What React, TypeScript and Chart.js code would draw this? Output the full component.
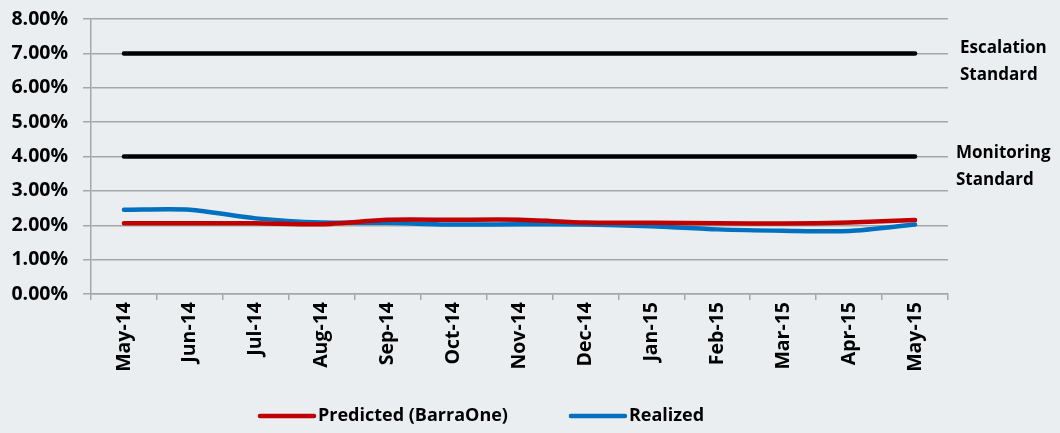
import React, { useEffect, useRef } from 'react';
import { Chart, registerables } from 'chart.js';

Chart.register(...registerables);

const categories = ['May-14', 'Jun-14', 'Jul-14', 'Aug-14', 'Sep-14', 'Oct-14', 'Nov-14', 'Dec-14', 'Jan-15', 'Feb-15', 'Mar-15', 'Apr-15', 'May-15'];
const predicted = [2.06, 2.06, 2.06, 2.03, 2.16, 2.16, 2.16, 2.08, 2.07, 2.06, 2.05, 2.08, 2.15];
const realized = [2.45, 2.45, 2.2, 2.08, 2.07, 2.02, 2.03, 2.02, 1.97, 1.88, 1.84, 1.83, 2.02];
const escalationStandard = [7, 7, 7, 7, 7, 7, 7, 7, 7, 7, 7, 7, 7];
const monitoringStandard = [4, 4, 4, 4, 4, 4, 4, 4, 4, 4, 4, 4, 4];
const seriesLabels = ['Predicted (BarraOne)', 'Realized'];
const standardLabels = [['Escalation', 'Standard'], ['Monitoring', 'Standard']];

const BG = '#eaeef0';
const GRID = '#a6a6a6';
const FONT = "'Open Sans', sans-serif";
const AXIS_FS = 19.5;
const NOTE_FS = 17;
const LEGEND_FS = 18;

const extrasPlugin = {
  id: 'extras',
  beforeDraw(chart: any) {
    const { ctx, width, height } = chart;
    ctx.save();
    ctx.fillStyle = BG;
    ctx.fillRect(0, 0, width, height);
    ctx.restore();
  },
  afterDraw(chart: any) {
    const { ctx, chartArea } = chart;
    const y = chart.scales.y;
    ctx.save();
    ctx.font = `bold ${NOTE_FS}px ${FONT}`;
    ctx.fillStyle = '#000';
    ctx.textBaseline = 'middle';
    ctx.textAlign = 'left';
    const x = chartArea.right + 10;
    const y7 = y.getPixelForValue(escalationStandard[0]);
    const y4 = y.getPixelForValue(monitoringStandard[0]);
    ctx.fillText(standardLabels[0][0], x + 2, y7 - 5.5);
    ctx.fillText(standardLabels[0][1], x + 2, y7 + 21.5);
    ctx.fillText(standardLabels[1][0], x - 2, y4 - 3.5);
    ctx.fillText(standardLabels[1][1], x - 2, y4 + 23.5);

    // legend
    ctx.font = `bold ${LEGEND_FS}px ${FONT}`;
    const ly = 408;
    let lx = 252;
    const lineLen = 54;
    [0, 1].forEach((i) => {
      const ds = chart.data.datasets[i];
      ctx.strokeStyle = ds.borderColor;
      ctx.lineWidth = 4.5;
      ctx.lineCap = 'round';
      ctx.beginPath();
      ctx.moveTo(lx, ly);
      ctx.lineTo(lx + lineLen, ly);
      ctx.stroke();
      ctx.fillStyle = '#000';
      ctx.fillText(ds.label, lx + lineLen + 4, ly);
      const w = ctx.measureText(ds.label).width;
      lx += lineLen + 4 + w + 63;
    });
    ctx.restore();
  },
};

export default function App() {
  const ref = useRef<HTMLCanvasElement>(null);
  useEffect(() => {
    document.body.style.background = BG;
    const chart = new Chart(ref.current!, {
      type: 'line',
      data: {
        labels: categories,
        datasets: [
          { label: seriesLabels[0], data: predicted, borderColor: '#c00000', backgroundColor: '#c00000', borderWidth: 4.5, pointRadius: 0, tension: 0.25, borderCapStyle: 'round' },
          { label: seriesLabels[1], data: realized, borderColor: '#0070c0', backgroundColor: '#0070c0', borderWidth: 4.5, pointRadius: 0, tension: 0.25, borderCapStyle: 'round' },
          { label: 'Escalation Standard', data: escalationStandard, borderColor: '#000', borderWidth: 4.5, pointRadius: 0, borderCapStyle: 'round' },
          { label: 'Monitoring Standard', data: monitoringStandard, borderColor: '#000', borderWidth: 4.5, pointRadius: 0, borderCapStyle: 'round' },
        ],
      },
      options: {
        animation: false,
        responsive: true,
        maintainAspectRatio: false,
        layout: { padding: { top: 11, right: 104, bottom: 41, left: 0 } },
        plugins: { legend: { display: false }, tooltip: { enabled: false } },
        scales: {
          x: {
            offset: true,
            grid: { offset: true, drawOnChartArea: false, drawTicks: true, tickLength: 6, color: GRID, lineWidth: 1.5 },
            border: { color: GRID, width: 1.5 },
            ticks: { minRotation: 90, maxRotation: 90, padding: 2, color: '#000', font: { family: FONT, size: AXIS_FS, weight: 'bold' } },
            afterFit: (s: any) => { s.height = 90; },
          },
          y: {
            min: 0,
            max: 8,
            ticks: { stepSize: 1, padding: 15, color: '#000', font: { family: FONT, size: AXIS_FS, weight: 'bold' }, callback: (v: any) => Number(v).toFixed(2) + '%' },
            grid: { color: GRID, lineWidth: 1.5, tickLength: 8 },
            border: { color: GRID, width: 1.5 },
            afterFit: (s: any) => { s.width = 83; s.paddingTop = 11; s.paddingBottom = 11; },
          },
        },
      },
      plugins: [extrasPlugin],
    });
    return () => chart.destroy();
  }, []);
  return (
    <div style={{ width: 1044, height: 417, position: 'relative' }}>
      <canvas ref={ref} />
    </div>
  );
}
